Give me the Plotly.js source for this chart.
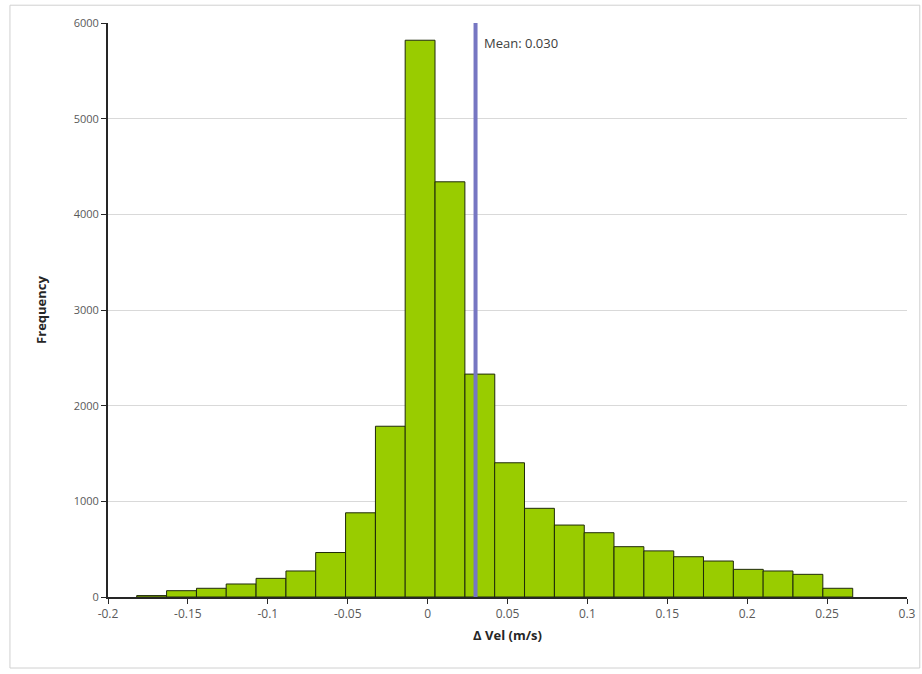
<!DOCTYPE html>
<html>
<head>
<meta charset="utf-8">
<script src="https://cdn.plot.ly/plotly-3.0.1.min.js"></script>
<style>html,body{margin:0;padding:0;background:#fff;}#chart{width:922px;height:674px;}</style>
</head>
<body>
<div id="chart"></div>
<script>
// Histogram bin centers (Δ Vel, m/s)
const binCenters = [-0.1727, -0.1540, -0.1353, -0.1167, -0.0980, -0.0793, -0.0607, -0.0420,
  -0.0233, -0.0047, 0.0140, 0.0327, 0.0513, 0.0700, 0.0887, 0.1073,
  0.1260, 0.1447, 0.1633, 0.1820, 0.2007, 0.2193, 0.2380, 0.2567];
const binWidth = 0.01867;
// Frequencies
const frequency = [15, 66, 91, 136, 195, 272, 465, 880,
  1785, 5820, 4340, 2330, 1403, 927, 752, 672,
  526, 482, 421, 376, 289, 272, 237, 91];
const meanValue = 0.030;
const meanLabel = 'Mean: 0.030';
const xTicks = [-0.2, -0.15, -0.1, -0.05, 0, 0.05, 0.1, 0.15, 0.2, 0.25, 0.3];
const xTickLabels = ['-0.2', '-0.15', '-0.1', '-0.05', '0', '0.05', '0.1', '0.15', '0.2', '0.25', '0.3'];
const yTicks = [0, 1000, 2000, 3000, 4000, 5000, 6000];

const trace = {
  type: 'bar',
  x: binCenters,
  y: frequency,
  width: binCenters.map(() => binWidth),
  marker: {color: '#99cc00', line: {color: '#1f2a0a', width: 1}},
  hoverinfo: 'x+y'
};

const layout = {
  width: 922, height: 674,
  margin: {l: 108, r: 15, t: 23, b: 77},
  paper_bgcolor: '#ffffff', plot_bgcolor: '#ffffff',
  showlegend: false,
  bargap: 0,
  font: {family: 'Open Sans, Liberation Sans, sans-serif', color: '#595959', size: 11},
  xaxis: {
    range: [-0.2, 0.3], tickmode: 'array', tickvals: xTicks, ticktext: xTickLabels,
    showgrid: false, zeroline: false,
    showline: true, linecolor: '#262626', linewidth: 2,
    ticks: 'outside', ticklen: 5, tickcolor: '#262626', tickwidth: 1,
    tickfont: {size: 12, color: '#595959'},
    title: {text: 'Δ Vel (m/s)', font: {size: 13, color: '#262626', family: 'Open Sans, sans-serif', weight: 'bold'}, standoff: 9}
  },
  yaxis: {
    range: [0, 6000], tickmode: 'array', tickvals: yTicks,
    showgrid: true, gridcolor: '#d9d9d9', gridwidth: 1, zeroline: false,
    showline: true, linecolor: '#262626', linewidth: 2,
    ticks: 'outside', ticklen: 5, tickcolor: '#262626', tickwidth: 1,
    tickfont: {size: 11, color: '#595959'},
    title: {text: 'Frequency', font: {size: 13, color: '#262626', family: 'Open Sans, sans-serif', weight: 'bold'}, standoff: 24}
  },
  shapes: [
    {type: 'line', xref: 'x', yref: 'y', x0: meanValue, x1: meanValue, y0: 0, y1: 6000,
     line: {color: '#7676c2', width: 4}},
    {type: 'rect', xref: 'paper', yref: 'paper', x0: -0.1227, x1: 1.016, y0: -0.1237, y1: 1.031,
     line: {color: '#d0d0d0', width: 1}, fillcolor: 'rgba(0,0,0,0)', layer: 'below'}
  ],
  annotations: [
    {xref: 'x', yref: 'y', x: meanValue, y: 5790, text: meanLabel, showarrow: false,
     xanchor: 'left', yanchor: 'middle', xshift: 6,
     font: {size: 13, color: '#404040', family: 'Open Sans, sans-serif'}}
  ]
};

Plotly.newPlot('chart', [trace], layout, {displayModeBar: false, staticPlot: true});
</script>
</body>
</html>
